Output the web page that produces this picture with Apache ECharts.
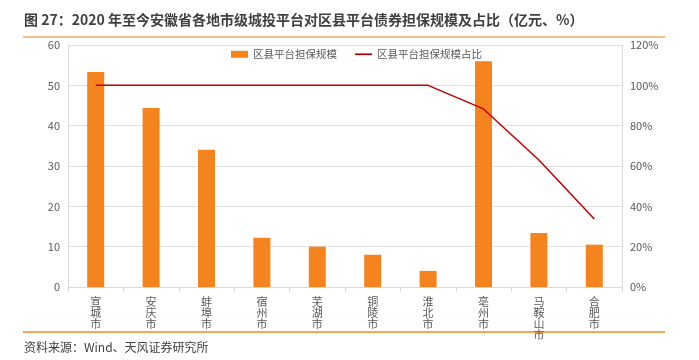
<!DOCTYPE html>
<html><head><meta charset="utf-8">
<script src="https://cdn.jsdelivr.net/npm/echarts@6/dist/echarts.min.js"></script>
<style>html,body{margin:0;padding:0;background:#fff}#c{width:699px;height:360px}</style>
</head><body><div id="c"></div>
<script>
const categories = ['宣城市','安庆市','蚌埠市','宿州市','芜湖市','铜陵市','淮北市','亳州市','马鞍山市','合肥市'];
const guaranteeScale = [53.3, 44.4, 34.0, 12.2, 10.0, 8.0, 4.0, 56.0, 13.4, 10.5];
const guaranteeRatio = [100, 100, 100, 100, 100, 100, 100, 88.3, 63.0, 33.7];
const leftTicks = [0, 60, 10];
const rightTicks = [0, 120, 20];

const chart = echarts.init(document.getElementById('c'));
const font = '"Noto Sans CJK SC", "Noto Sans", sans-serif';
chart.setOption({
  animation: false,
  textStyle: { fontFamily: font },
  graphic: [
    { type: 'text', left: 24, top: 13, style: { text: '图 27：2020 年至今安徽省各地市级城投平台对区县平台债券担保规模及占比（亿元、%）', fill: '#404040', font: 'bold 14px ' + font } },
    { type: 'line', shape: { x1: 23, y1: 37, x2: 665, y2: 37 }, style: { stroke: '#f4a460', lineWidth: 1.5 } },
    { type: 'line', shape: { x1: 23, y1: 332, x2: 665, y2: 332 }, style: { stroke: '#f08a24', lineWidth: 1.5 } },
    { type: 'text', left: 24, top: 341, style: { text: '资料来源：Wind、天风证券研究所', fill: '#404040', font: '12px ' + font } }
  ],
  legend: {
    top: 44, left: 226, itemGap: 18, itemWidth: 17, itemHeight: 7,
    textStyle: { fontSize: 10.5, color: '#595959', fontFamily: font },
    data: [
      { name: '区县平台担保规模', icon: 'rect' },
      { name: '区县平台担保规模占比', icon: 'path://M0,4h20v2h-20z' }
    ]
  },
  grid: { left: 68, right: 77, top: 45, bottom: 73 },
  xAxis: {
    type: 'category', data: categories,
    axisLine: { lineStyle: { color: '#d9d9d9' } },
    axisTick: { show: true, lineStyle: { color: '#d9d9d9' } },
    axisLabel: { color: '#595959', fontSize: 11, lineHeight: 11, margin: 9, interval: 0,
      formatter: v => v.split('').join('\n') }
  },
  yAxis: [
    { type: 'value', min: leftTicks[0], max: leftTicks[1], interval: leftTicks[2],
      axisLine: { show: true, lineStyle: { color: '#d9d9d9' } },
      axisLabel: { color: '#595959', fontSize: 11 },
      splitLine: { lineStyle: { color: '#e0e0e0' } } },
    { type: 'value', min: rightTicks[0], max: rightTicks[1], interval: rightTicks[2],
      axisLine: { show: true, lineStyle: { color: '#d9d9d9' } },
      axisLabel: { color: '#595959', fontSize: 11, formatter: '{value}%' },
      splitLine: { show: false } }
  ],
  series: [
    { name: '区县平台担保规模', type: 'bar', data: guaranteeScale, barWidth: 17,
      itemStyle: { color: '#f5841f' } },
    { name: '区县平台担保规模占比', type: 'line', yAxisIndex: 1, data: guaranteeRatio,
      symbol: 'none', lineStyle: { color: '#c00000', width: 1.5 }, itemStyle: { color: '#c00000' } }
  ]
});
</script></body></html>
